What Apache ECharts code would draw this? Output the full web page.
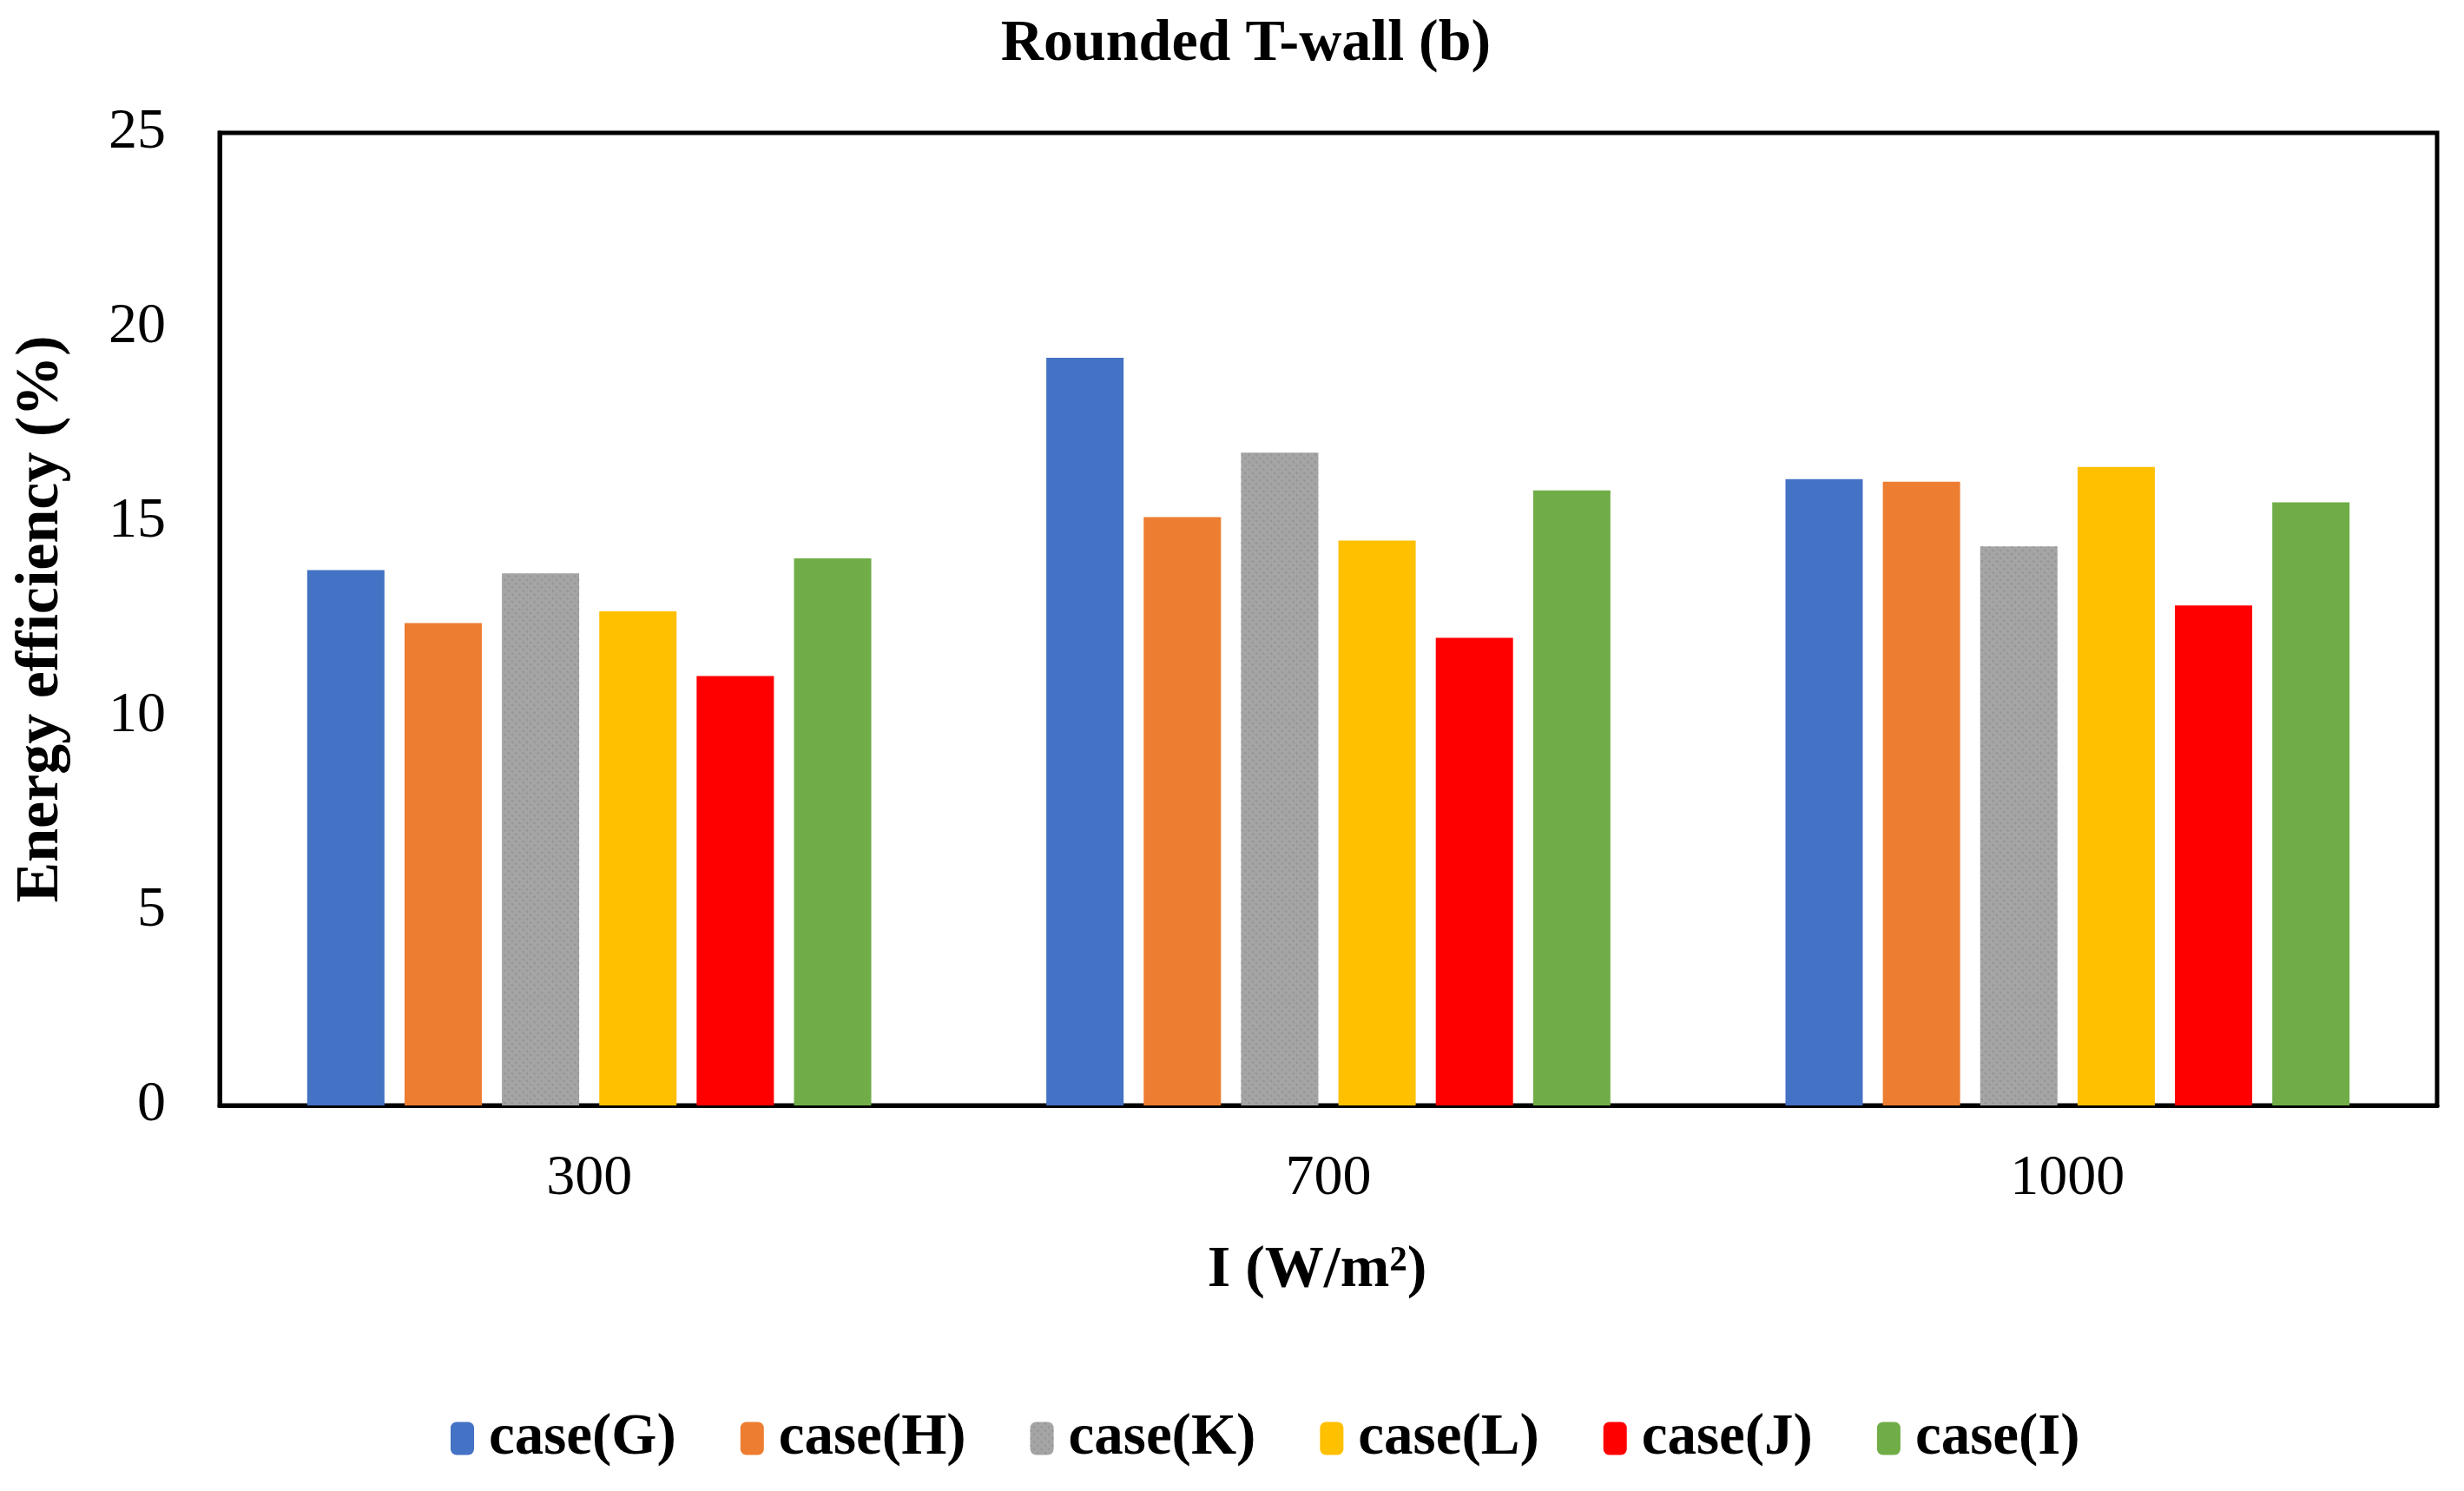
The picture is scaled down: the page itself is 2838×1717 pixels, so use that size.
<!DOCTYPE html>
<html>
<head>
<meta charset="utf-8">
<script src="https://cdn.jsdelivr.net/npm/echarts@6/dist/echarts.min.js"></script>
<style>
html,body{margin:0;padding:0;background:#fff;}
#chart{width:2838px;height:1717px;}
</style>
</head>
<body>
<div id="chart"></div>
<script>
const categories = ['300', '700', '1000'];
const seriesNames = ['case(G)', 'case(H)', 'case(K)', 'case(L)', 'case(J)', 'case(I)'];
const caseG = [13.76, 19.22, 16.10];
const caseH = [12.40, 15.12, 16.03];
const caseK = [13.68, 16.78, 14.37];
const caseL = [12.70, 14.52, 16.41];
const caseJ = [11.04, 12.02, 12.85];
const caseI = [14.06, 15.81, 15.50];
const yTicks = [0, 5, 10, 15, 20, 25];

const seriesValues = [caseG, caseH, caseK, caseL, caseJ, caseI];
const colors = ['#4472C4', '#ED7D31', '#A5A5A5', '#FFC000', '#FF0000', '#70AD47'];
const FONT = '"Liberation Serif", "Times New Roman", serif';

const chart = echarts.init(document.getElementById('chart'));
const series = seriesNames.map((name, i) => {
  const itemStyle = { color: colors[i] };
  if (i === 2) {
    itemStyle.decal = {
      symbol: 'rect',
      symbolSize: 1,
      dashArrayX: [[3, 3]],
      dashArrayY: [2, 4],
      rotation: Math.PI / 4,
      color: 'rgba(130,130,130,0.45)'
    };
  }
  return {
    name: name,
    type: 'bar',
    data: seriesValues[i],
    barWidth: 89,
    barGap: '26%',
    itemStyle: itemStyle
  };
});

chart.setOption({
  backgroundColor: '#fff',
  animation: false,
  color: colors,
  aria: { enabled: false, decal: { show: true } },
  title: {
    text: 'Rounded T-wall (b)',
    left: 1430,
    textAlign: 'center',
    top: 12,
    textStyle: { fontFamily: FONT, fontWeight: 'bold', fontSize: 68, color: '#000' }
  },
  legend: {
    data: seriesNames,
    left: 514,
    top: 1618,
    itemWidth: 27,
    itemHeight: 38,
    itemGap: 74,
    textStyle: { fontFamily: FONT, fontWeight: 'bold', fontSize: 67, color: '#000', padding: [0, 0, 0, 12] }
  },
  grid: {
    left: 253, right: 31, top: 153, bottom: 444,
    show: true, borderColor: '#000', borderWidth: 5,
    containLabel: false
  },
  xAxis: {
    type: 'category',
    data: categories,
    name: 'I (W/m²)',
    nameLocation: 'middle',
    nameGap: 156,
    nameTextStyle: { fontFamily: FONT, fontWeight: 'bold', fontSize: 68, color: '#000', padding: [0, 26, 0, 0] },
    axisLine: { show: true, lineStyle: { color: '#000', width: 5 } },
    axisTick: { show: false },
    axisLabel: { fontFamily: FONT, fontSize: 66, color: '#000', margin: 52 },
    splitLine: { show: false }
  },
  yAxis: {
    type: 'value',
    min: yTicks[0],
    max: yTicks[yTicks.length - 1],
    interval: yTicks[1] - yTicks[0],
    name: 'Energy efficiency (%)',
    nameLocation: 'middle',
    nameGap: 170,
    nameRotate: 90,
    nameTextStyle: { fontFamily: FONT, fontWeight: 'bold', fontSize: 70, color: '#000' },
    axisLine: { show: true, lineStyle: { color: '#000', width: 5 } },
    axisTick: { show: false },
    axisLabel: { fontFamily: FONT, fontSize: 66, color: '#000', margin: 62 },
    splitLine: { show: false }
  },
  series: series
});
</script>
</body>
</html>
